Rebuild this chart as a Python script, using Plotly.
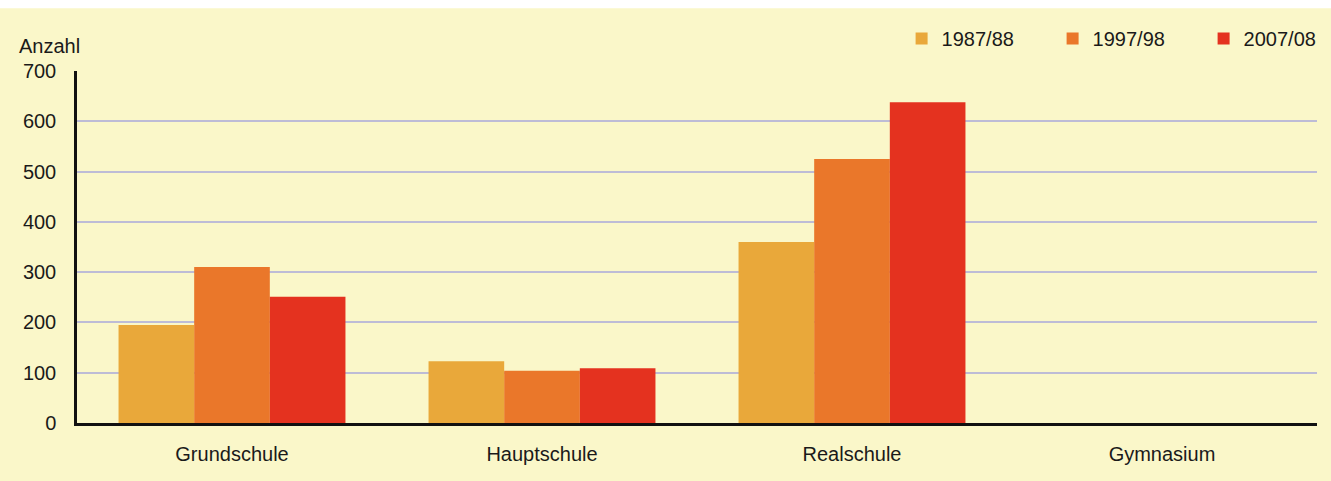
import plotly.graph_objects as go

# Schools and pupil counts per school year
schularten = ["Grundschule", "Hauptschule", "Realschule", "Gymnasium"]
jahre = ["1987/88", "1997/98", "2007/08"]
werte_1987 = [195, 123, 360, None]
werte_1997 = [310, 104, 525, None]
werte_2007 = [251, 109, 638, None]
farben = ["#e9a83a", "#ea772a", "#e4321f"]
y_ticks = [0, 100, 200, 300, 400, 500, 600, 700]

FONT = "Liberation Sans, Arial, sans-serif"
TEXT = "#1a1a1a"
BG = "#faf7c9"

fig = go.Figure()
for name, vals, col in zip(jahre, [werte_1987, werte_1997, werte_2007], farben):
    fig.add_trace(go.Bar(x=schularten, y=vals, name=name,
                         marker=dict(color=col, line=dict(width=0))))

fig.update_layout(
    width=1331, height=481,
    margin=dict(l=77, r=14, t=71, b=58, autoexpand=False),
    paper_bgcolor=BG, plot_bgcolor=BG,
    barmode="group", bargap=0.268, bargroupgap=0,
    font=dict(family=FONT, size=20, color=TEXT),
    legend=dict(orientation="h", x=0.665, xanchor="left", y=1.092, yanchor="middle",
                entrywidth=106, bgcolor="rgba(0,0,0,0)",
                font=dict(family=FONT, size=20, color=TEXT), traceorder="normal"),
    showlegend=True,
)
fig.update_xaxes(
    showline=True, linecolor="#111111", linewidth=2.5,
    showgrid=False, ticks="", ticklabelstandoff=11,
    tickfont=dict(family=FONT, size=20, color=TEXT),
)
fig.update_yaxes(
    range=[0, 700], tickvals=y_ticks,
    showline=True, linecolor="#111111", linewidth=2.5,
    showgrid=True, gridcolor="#bdbcd6", gridwidth=1.6,
    zeroline=False, ticks="", ticklabelstandoff=14,
    tickfont=dict(family=FONT, size=20, color=TEXT),
)
# Axis caption
fig.add_annotation(text="Anzahl", xref="paper", yref="paper", x=-0.048, y=1.071,
                   xanchor="left", yanchor="middle", showarrow=False,
                   font=dict(family=FONT, size=20, color=TEXT))
# White strip above the tinted panel
fig.add_shape(type="rect", xref="paper", yref="paper", x0=-0.1, x1=1.1,
              y0=1.178, y1=1.25, fillcolor="white", line=dict(width=0), layer="below")

fig.write_html("out.html")
